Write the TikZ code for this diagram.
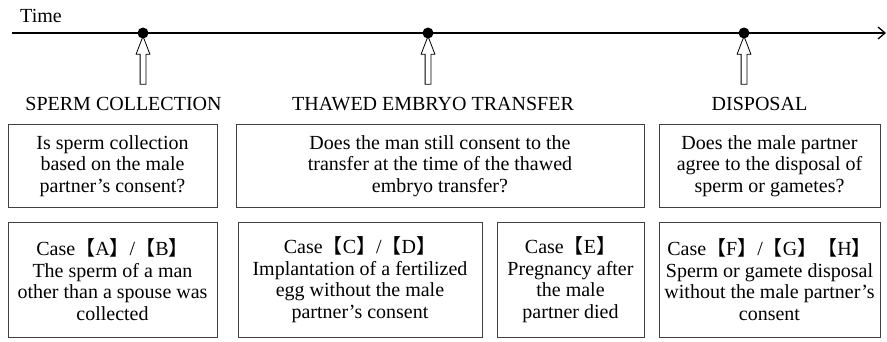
\documentclass[tikz,border=0pt]{standalone}
\usepackage{fontspec}
\setmainfont{Liberation Serif}
\newfontfamily\cjkfont{Noto Sans CJK JP}
\usetikzlibrary{arrows.meta, shapes.arrows, positioning}

\newcommand{\openbr}{{\cjkfont 【}}
\newcommand{\closebr}{{\cjkfont 】}}

\begin{document}
\begin{tikzpicture}[
    x=1pt, y=-1pt,
    % --- STYLES ---
    timeline/.style={-{Straight Barb[length=7pt, width=12pt]}, line width=1.3pt},
    evdot/.style={circle, fill=black, minimum size=11pt, inner sep=0pt},
    evarrow/.style={single arrow, draw, line width=0.8pt, rotate=90, minimum height=48pt, inner sep=2.5pt, single arrow head extend=4pt, single arrow tip angle=42},
    evlabel/.style={font=\fontsize{20}{22}\selectfont},
    % Box styles
    qbox/.style 2 args={draw=black!75, line width=0.9pt, align=center, inner sep=0pt, minimum width=#1, minimum height=#2, font=\fontsize{20}{21.5}\selectfont},
    casebox/.style={qbox={#1}{115pt}}
]
\useasboundingbox (0,0) rectangle (887,341);

% --- 1. TIME AXIS ---
\node[evlabel] (time) at (41,16) {Time};
\coordinate (t0) at (12,33);
\coordinate (t1) at (886,33);
\draw[timeline] (t0) -- (t1);

% --- 2. EVENTS ON THE AXIS ---
\node[evdot] (d1) at (143,33) {};
\node[evdot] (d2) at (428,33) {};
\node[evdot] (d3) at (744,33) {};

\node[evarrow] (a1) at (143,64) {};
\node[evarrow] (a2) at (428,64) {};
\node[evarrow] (a3) at (744,64) {};

\node[evlabel] (l1) at (123.5,104) {SPERM COLLECTION};
\node[evlabel] (l2) at (433,104) {THAWED EMBRYO TRANSFER};
\node[evlabel] (l3) at (759.5,104) {DISPOSAL};

% --- 3. QUESTIONS ---
\node[qbox={209pt}{83pt}] (q1) at (112.5,166) {Is sperm collection\\based on the male\\partner’s consent?};
\node[qbox={408pt}{83pt}] (q2) at (440,166) {Does the man still consent to the\\transfer at the time of the thawed\\embryo transfer?};
\node[qbox={221pt}{83pt}] (q3) at (769.5,166) {Does the male partner\\agree to the disposal of\\sperm or gametes?};

% --- 4. CASES ---
\node[casebox=209pt] (cab) at (112.5,279.5) {Case\openbr A\closebr/\openbr B\closebr\\The sperm of a man\\other than a spouse was\\collected};
\node[casebox=244pt] (ccd) at (360,279.5) {Case\openbr C\closebr/\openbr D\closebr\\Implantation of a fertilized\\egg without the male\\partner’s consent};
\node[casebox=147pt] (ce) at (570.5,279.5) {Case\openbr E\closebr\\Pregnancy after\\the male\\partner died};
\node[casebox=221pt] (cfgh) at (769.5,279.5) {Case\openbr F\closebr/\openbr G\closebr\openbr H\closebr\\Sperm or gamete disposal\\without the male partner’s\\consent};

\end{tikzpicture}
\end{document}
